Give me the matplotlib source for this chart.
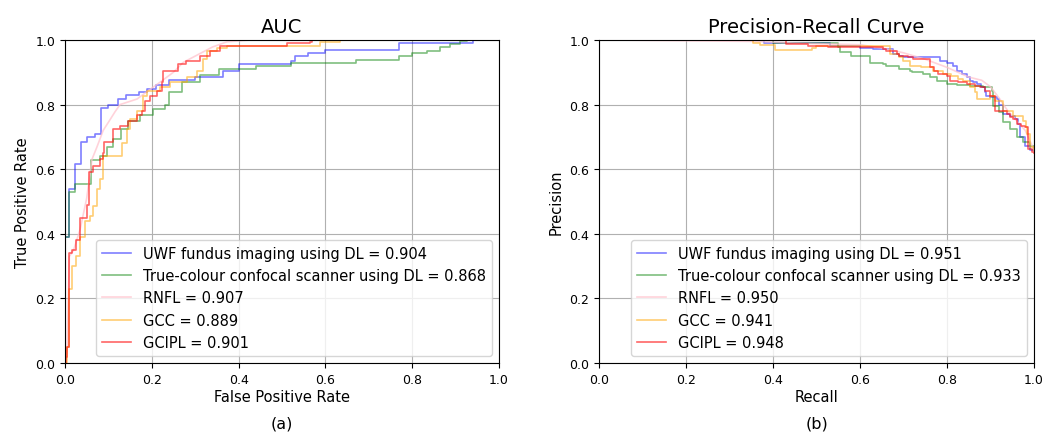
import numpy as np
import matplotlib
matplotlib.use("Agg")
import matplotlib.pyplot as plt

# ---- ROC data (fpr, tpr) ----
roc_uwf_fpr = [0, 0.0, 0.01, 0.023, 0.037, 0.05, 0.07, 0.083, 0.10, 0.122, 0.14, 0.17, 0.19, 0.21,
               0.24, 0.30, 0.364, 0.40, 0.52, 0.53, 0.56, 0.60, 0.77, 0.94, 1.0]
roc_uwf_tpr = [0, 0.39, 0.54, 0.616, 0.684, 0.70, 0.71, 0.79, 0.80, 0.817, 0.83, 0.84, 0.848, 0.86,
               0.875, 0.885, 0.905, 0.925, 0.935, 0.95, 0.96, 0.97, 0.99, 1.0, 1.0]

roc_tc_fpr = [0, 0.0, 0.01, 0.023, 0.06, 0.08, 0.097, 0.11, 0.13, 0.145, 0.173, 0.203, 0.23, 0.24,
              0.27, 0.31, 0.355, 0.44, 0.52, 0.67, 0.77, 0.80, 0.834, 0.865, 0.887, 0.91, 0.926, 1.0]
roc_tc_tpr = [0, 0.39, 0.53, 0.554, 0.628, 0.64, 0.668, 0.693, 0.724, 0.749, 0.768, 0.786, 0.80, 0.84,
              0.87, 0.89, 0.91, 0.92, 0.928, 0.938, 0.949, 0.958, 0.967, 0.977, 0.988, 0.997, 1.0, 1.0]

roc_rnfl_fpr = [0, 0.005, 0.01, 0.02, 0.035, 0.05, 0.062, 0.074, 0.088, 0.10, 0.115, 0.127, 0.166,
                0.189, 0.22, 0.25, 0.272, 0.31, 0.34, 0.373, 0.43, 1.0]
roc_rnfl_tpr = [0, 0.05, 0.33, 0.35, 0.415, 0.51, 0.63, 0.67, 0.72, 0.745, 0.777, 0.80, 0.817,
                0.84, 0.87, 0.90, 0.93, 0.957, 0.978, 0.994, 1.0, 1.0]

roc_gcc_fpr = [0, 0.005, 0.01, 0.017, 0.025, 0.035, 0.046, 0.058, 0.065, 0.074, 0.08, 0.087, 0.131,
               0.143, 0.15, 0.166, 0.18, 0.189, 0.219, 0.242, 0.281, 0.304, 0.318, 0.327, 0.35, 0.373,
               0.587, 0.634, 1.0]
roc_gcc_tpr = [0, 0.05, 0.23, 0.30, 0.33, 0.39, 0.44, 0.455, 0.486, 0.54, 0.57, 0.64, 0.68,
               0.724, 0.755, 0.78, 0.827, 0.842, 0.855, 0.87, 0.885, 0.904, 0.94, 0.966, 0.975, 0.98,
               0.994, 1.0, 1.0]

roc_gcipl_fpr = [0, 0.003, 0.005, 0.01, 0.017, 0.025, 0.035, 0.05, 0.055, 0.065, 0.08, 0.087, 0.09,
                 0.11, 0.127, 0.145, 0.165, 0.177, 0.184, 0.195, 0.212, 0.223, 0.226, 0.26, 0.28, 0.31,
                 0.334, 0.357, 0.511, 0.565, 0.57, 1.0]
roc_gcipl_tpr = [0, 0.02, 0.05, 0.34, 0.35, 0.38, 0.45, 0.49, 0.59, 0.61, 0.63, 0.65, 0.684,
                 0.724, 0.733, 0.749, 0.768, 0.78, 0.81, 0.827, 0.842, 0.87, 0.904, 0.926, 0.935, 0.95,
                 0.966, 0.98, 0.99, 0.994, 1.0, 1.0]

# ---- Precision-recall data (recall, precision) ----
pr_uwf_rec = [0, 0.38, 0.43, 0.53, 0.60, 0.63, 0.675, 0.69, 0.70, 0.784, 0.80, 0.814, 0.823, 0.834,
              0.846, 0.853, 0.86, 0.87, 0.878, 0.887, 0.89, 0.90, 0.915, 0.92, 0.929, 0.945, 0.956,
              0.963, 0.968, 0.979, 0.99, 1.0]
pr_uwf_prec = [1.0, 0.99, 0.99, 0.98, 0.975, 0.972, 0.957, 0.95, 0.947, 0.935, 0.93, 0.92, 0.904,
               0.895, 0.885, 0.874, 0.87, 0.864, 0.855, 0.84, 0.827, 0.823, 0.817, 0.80, 0.77, 0.765,
               0.755, 0.74, 0.70, 0.672, 0.66, 0.66]

pr_tc_rec = [0, 0.40, 0.55, 0.555, 0.58, 0.623, 0.653, 0.66, 0.69, 0.715, 0.72, 0.745, 0.76, 0.777,
             0.80, 0.823, 0.853, 0.883, 0.904, 0.906, 0.92, 0.929, 0.945, 0.96, 0.975, 0.99, 1.0]
pr_tc_prec = [1.0, 0.99, 0.978, 0.963, 0.95, 0.93, 0.926, 0.92, 0.91, 0.904, 0.90, 0.895, 0.885,
              0.874, 0.864, 0.861, 0.858, 0.855, 0.842, 0.796, 0.777, 0.746, 0.724, 0.70, 0.684,
              0.672, 0.665]

pr_rnfl_rec = [0, 0.37, 0.45, 0.60, 0.65, 0.70, 0.75, 0.80, 0.85, 0.88, 0.90, 0.92, 0.94, 0.96,
               0.98, 1.0]
pr_rnfl_prec = [1.0, 0.995, 0.99, 0.985, 0.975, 0.96, 0.94, 0.915, 0.885, 0.875, 0.855, 0.82,
                0.78, 0.75, 0.72, 0.66]

pr_gcc_rec = [0, 0.354, 0.37, 0.405, 0.49, 0.50, 0.669, 0.675, 0.69, 0.70, 0.715, 0.74, 0.768,
              0.79, 0.81, 0.825, 0.837, 0.853, 0.864, 0.868, 0.899, 0.91, 0.929, 0.952, 0.975, 0.982,
              0.985, 0.99, 1.0]
pr_gcc_prec = [1.0, 0.99, 0.985, 0.97, 0.975, 0.98, 0.957, 0.957, 0.947, 0.935, 0.92, 0.916, 0.904,
               0.895, 0.889, 0.879, 0.874, 0.855, 0.84, 0.817, 0.827, 0.81, 0.78, 0.765, 0.75, 0.73,
               0.71, 0.67, 0.66]

pr_gcipl_rec = [0, 0.43, 0.48, 0.526, 0.653, 0.66, 0.685, 0.69, 0.71, 0.722, 0.76, 0.77, 0.78,
                0.80, 0.807, 0.825, 0.846, 0.865, 0.876, 0.887, 0.899, 0.91, 0.938, 0.945, 0.952,
                0.961, 0.97, 0.979, 0.986, 0.995, 1.0]
pr_gcipl_prec = [1.0, 0.988, 0.98, 0.978, 0.972, 0.966, 0.957, 0.95, 0.947, 0.94, 0.916, 0.904,
                 0.895, 0.889, 0.874, 0.87, 0.864, 0.858, 0.855, 0.842, 0.827, 0.78, 0.77, 0.761,
                 0.755, 0.74, 0.733, 0.73, 0.662, 0.653, 0.65]

names = ["UWF fundus imaging using DL", "True-colour confocal scanner using DL", "RNFL", "GCC", "GCIPL"]
auc_vals = [0.904, 0.868, 0.907, 0.889, 0.901]
ap_vals = [0.951, 0.933, 0.950, 0.941, 0.948]
colors = ["blue", "green", "pink", "orange", "red"]
alphas = [0.5, 0.5, 0.7, 0.55, 0.6]
steps = ["steps-post", "steps-post", "default", "steps-post", "steps-post"]

roc_curves = [(roc_uwf_fpr, roc_uwf_tpr), (roc_tc_fpr, roc_tc_tpr), (roc_rnfl_fpr, roc_rnfl_tpr),
              (roc_gcc_fpr, roc_gcc_tpr), (roc_gcipl_fpr, roc_gcipl_tpr)]
pr_curves = [(pr_uwf_rec, pr_uwf_prec), (pr_tc_rec, pr_tc_prec), (pr_rnfl_rec, pr_rnfl_prec),
             (pr_gcc_rec, pr_gcc_prec), (pr_gcipl_rec, pr_gcipl_prec)]

fig = plt.figure(figsize=(10.57, 4.35), dpi=100)
ax1 = fig.add_axes([0.0615, 0.163, 0.4105, 0.743])
ax2 = fig.add_axes([0.5667, 0.163, 0.4115, 0.743])

for i in range(5):
    x, y = roc_curves[i]
    ax1.plot(x, y, color=colors[i], alpha=alphas[i], lw=1.2, drawstyle=steps[i],
             label=f"{names[i]} = {auc_vals[i]:.3f}")
    r, p = pr_curves[i]
    ax2.plot(r, p, color=colors[i], alpha=alphas[i], lw=1.2, drawstyle=steps[i],
             label=f"{names[i]} = {ap_vals[i]:.3f}")

ticks = np.arange(0, 1.01, 0.2)
for ax, title, xl, yl in [(ax1, "AUC", "False Positive Rate", "True Positive Rate"),
                          (ax2, "Precision-Recall Curve", "Recall", "Precision")]:
    ax.set_xlim(0, 1)
    ax.set_ylim(0, 1)
    ax.set_xticks(ticks)
    ax.set_yticks(ticks)
    ax.tick_params(labelsize=9)
    ax.grid(True, color="#b0b0b0", lw=0.8)
    ax.set_title(title, fontsize=14)
    ax.set_xlabel(xl, fontsize=10.5, labelpad=2)
    ax.set_ylabel(yl, fontsize=10.5)
    ax.legend(loc="lower right", fontsize=10.5)

fig.text(282 / 1057, 1 - 424 / 435, "(a)", ha="center", va="center", fontsize=11.5)
fig.text(817 / 1057, 1 - 424 / 435, "(b)", ha="center", va="center", fontsize=11.5)

fig.savefig("out.png", dpi=100)
